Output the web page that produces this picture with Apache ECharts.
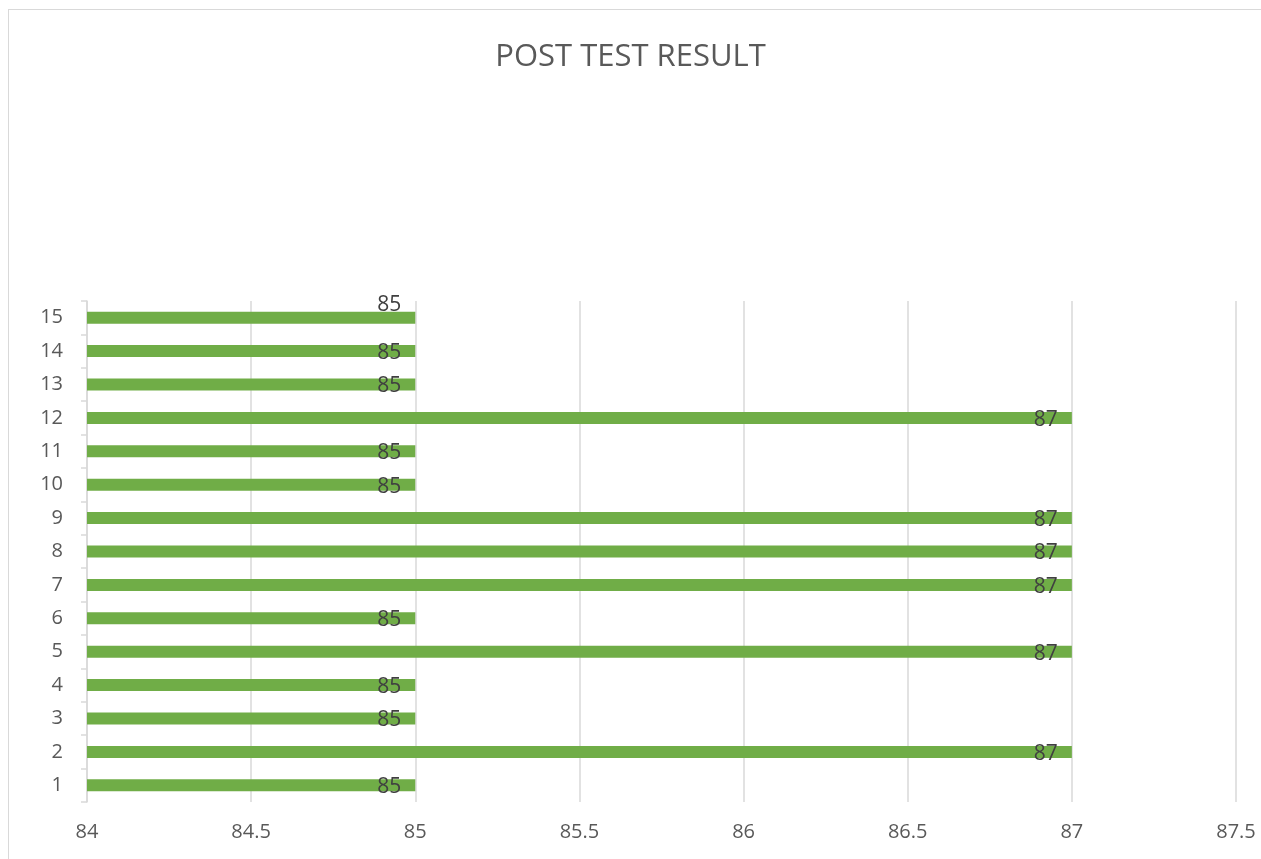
<!DOCTYPE html>
<html>
<head>
<meta charset="utf-8">
<script src="https://cdn.jsdelivr.net/npm/echarts@6/dist/echarts.min.js"></script>
<style>
html,body{margin:0;padding:0;background:#fff;overflow:hidden;}
#c{position:absolute;left:0;top:0;width:1261px;height:859px;}
#frame{position:absolute;left:8px;top:9px;width:1300px;height:900px;border:1px solid #d9d9d9;pointer-events:none;}
</style>
</head>
<body>
<div id="c"></div>
<div id="frame"></div>
<script>
const titleText = 'POST TEST RESULT';
const categories = ['1','2','3','4','5','6','7','8','9','10','11','12','13','14','15'];
const scores = [85,87,85,85,87,85,87,87,87,85,85,87,85,85,85];
const xTicks = [84, 84.5, 85, 85.5, 86, 86.5, 87, 87.5];

const FONT = '"Open Sans", "Liberation Sans", sans-serif';
const chart = echarts.init(document.getElementById('c'));
chart.setOption({
  animation: false,
  backgroundColor: 'transparent',
  title: {
    text: titleText,
    left: 'center',
    top: 37,
    textStyle: {fontFamily: FONT, fontSize: 31, fontWeight: 'normal', color: '#595959'}
  },
  grid: {left: 87, right: 25, top: 301, bottom: 57, containLabel: false},
  xAxis: {
    type: 'value',
    min: xTicks[0],
    max: xTicks[xTicks.length - 1],
    interval: 0.5,
    axisLine: {show: false},
    axisTick: {show: false},
    splitLine: {show: true, lineStyle: {color: '#d9d9d9', width: 1.5}},
    axisLabel: {fontFamily: FONT, fontSize: 20, color: '#595959', margin: 20}
  },
  yAxis: {
    type: 'category',
    data: categories,
    axisLine: {show: true, lineStyle: {color: '#d9d9d9', width: 1.5}},
    axisTick: {show: true, length: 6, lineStyle: {color: '#d9d9d9', width: 1.5}},
    axisLabel: {fontFamily: FONT, fontSize: 20, color: '#595959', margin: 24}
  },
  series: [{
    type: 'bar',
    barWidth: 12,
    itemStyle: {color: '#70ad47'},
    label: {
      show: true,
      position: 'insideRight',
      distance: 14,
      offset: [0, 2],
      fontFamily: FONT,
      fontSize: 21,
      color: '#404040'
    },
    data: scores.map((v, i) => i === scores.length - 1
      ? {value: v, label: {offset: [0, -13]}}
      : v)
  }]
});
</script>
</body>
</html>
